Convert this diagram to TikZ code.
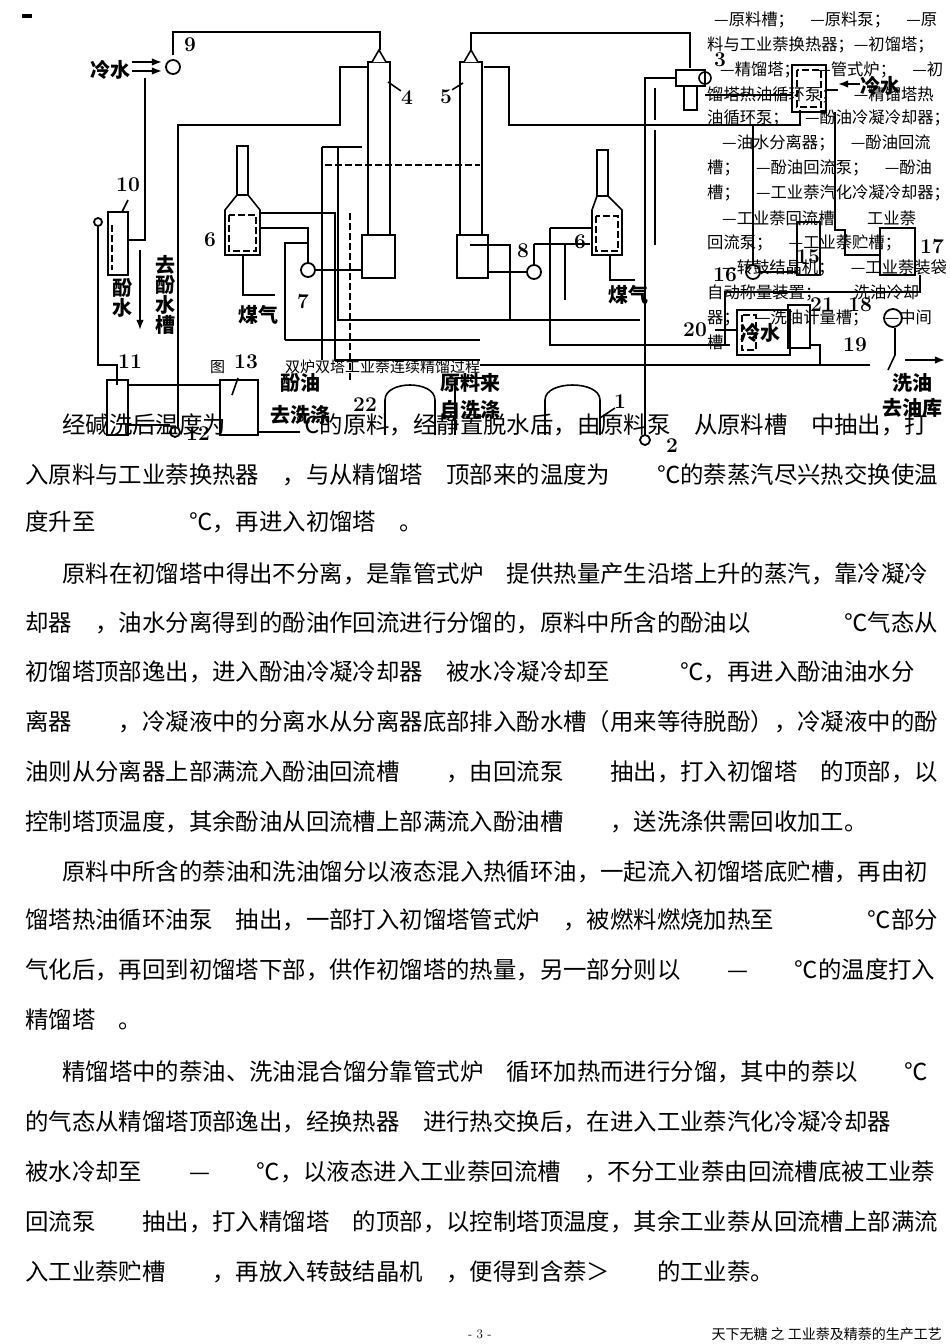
\documentclass[tikz,border=0pt]{standalone}
\usepackage{fontspec}
\newfontfamily\cjk{Noto Sans CJK SC}
\usetikzlibrary{arrows.meta}
\begin{document}
\begin{tikzpicture}[x=1pt,y=-1pt,
  pipe/.style={line width=2.6pt,line join=miter},
  thin/.style={line width=1.6pt},
  dashpipe/.style={line width=1.8pt,dash pattern=on 7pt off 3pt},
  body/.style={anchor=west,inner sep=0pt,font=\cjk\fontsize{23.4pt}{23.4pt}\selectfont},
  leg/.style={anchor=west,inner sep=0pt,font=\cjk\fontsize{16.3pt}{16.3pt}\selectfont},
  num/.style={inner sep=0pt,font=\bfseries\fontsize{21pt}{21pt}\selectfont},
  lab/.style={inner sep=0pt,font=\cjk\bfseries\fontsize{20pt}{20pt}\selectfont},
  pumpc/.style={circle,draw,line width=1.8pt,minimum size=14pt,inner sep=0pt,fill=white}]
\useasboundingbox (0,0) rectangle (950,1344);
\fill[white] (0,0) rectangle (950,1344);
\fill (22,14) rectangle (32,18);
% ---------- towers ----------
\draw[thin] (368,62) rectangle (390,235);
\draw[thin] (362,235) rectangle (395,278);
\draw[thin,fill=white] (372,62) -- (379,50) -- (386,62);
\draw[thin] (460,62) rectangle (482,235);
\draw[thin] (457,235) rectangle (488,278);
\draw[thin,fill=white] (464,62) -- (471,50) -- (478,62);
\node[num] (n4) at (407,98) {4}; \draw[thin] (n4.north west) -- (388,82);
\node[num] (n5) at (446,97) {5}; \draw[thin] (n5.north east) -- (463,83);
% ---------- furnaces ----------
\draw[thin] (237,146) rectangle (248,195);
\draw[thin] (237,195) -- (225,210) -- (225,255) -- (260,255) -- (260,210) -- (248,195);
\draw[dashpipe] (229,215) rectangle (256,251);
\node[num] (n6a) at (210,240) {6};
\draw[thin] (597,150) rectangle (608,196);
\draw[thin] (597,196) -- (592,210) -- (592,255) -- (622,255) -- (622,210) -- (608,196);
\draw[dashpipe] (596,216) rectangle (618,251);
\node[num] (n6b) at (580,242) {6};
% ---------- main pipes left ----------
\draw[pipe] (173,55) -- (173,32) -- (380,32) -- (380,50);
\node[pumpc] (p9) at (173,67) {};
\node[num] at (190,45) {9};
\node[lab] (cw1) at (110,70) {冷水};
\draw[thin,-{Latex}] (132,62) -- (162,62);
\draw[thin,-{Latex}] (132,71) -- (162,71);
\draw[pipe] (145,78) -- (145,240) -- (128,240);
\draw[thin] (108,212) rectangle (128,275);
\draw[dashpipe] (112,225) -- (112,270);
\node[num] at (128,185) {10};
\draw[thin] (128,200) -- (122,212);
\draw[pipe] (98,222) -- (98,365) -- (117,365) -- (117,385);
\node[pumpc,minimum size=8pt] at (98,222) {};
\node[lab,align=center] at (122,298) {酚\\水};
\node[lab,align=center] at (165,295) {去\\酚\\水\\槽};
\draw[thin,-{Latex}] (140,250) -- (140,330);
\draw[pipe] (178,435) -- (178,125) -- (340,125) -- (340,67) -- (368,67);
\draw[pipe] (243,255) -- (243,295) -- (275,295);
\node[lab] at (258,315) {煤气};
\draw[pipe] (260,213) -- (335,213) -- (335,360) -- (480,360);
\draw[pipe] (260,228) -- (308,228) -- (308,263);
\draw[pipe] (285,340) -- (285,243) -- (308,243);
\draw[pipe] (285,340) -- (480,340);
\node[pumpc] (p7) at (308,270) {};
\node[num] at (303,302) {7};
\draw[pipe] (315,270) -- (362,270);
\draw[pipe] (322,147) -- (322,360);
\draw[pipe] (322,147) -- (362,147);
\draw[dashpipe] (325,165) -- (480,165);
\draw[pipe] (338,147) -- (338,320) -- (480,320);
\draw[dashpipe] (350,213) -- (350,380);
% tanks bottom left
\draw[thin] (107,380) rectangle (128,435);
\node[num] at (130,362) {11};
\draw[pipe] (128,385) -- (220,385);
\draw[thin] (220,380) rectangle (258,435);
\node[num] at (246,362) {13};
\draw[thin] (238,378) -- (232,395);
\node[pumpc,minimum size=10pt] (p12) at (175,432) {};
\node[num] at (198,434) {12};
\draw[pipe] (128,425) -- (170,425);
\draw[pipe] (258,432) -- (300,432);
\node[lab] at (300,383) {酚油};
\node[lab] at (300,415) {去洗涤};
\draw[thin] (385,400) .. controls (385,380) and (435,380) .. (435,400) -- (435,435);
\draw[thin] (385,400) -- (385,435);
\node[num] at (365,405) {22};
\draw[thin] (545,400) .. controls (545,380) and (600,380) .. (600,400) -- (600,435);
\draw[thin] (545,400) -- (545,435);
\node[lab] at (470,383) {原料来};
\node[lab] at (470,410) {自洗涤};
\draw[thin] (455,378) -- (455,435);
\draw[thin] (455,378) -- (485,378);
\node[num] at (620,402) {1};
\draw[thin] (600,418) -- (615,408);
\node[pumpc,minimum size=10pt] (p2) at (645,440) {};
\node[num] at (672,446) {2};
% ---------- right side ----------
\draw[pipe] (471,50) -- (471,33) -- (690,33) -- (690,68);
\draw[thin,fill=white] (676,70) rectangle (705,86);
\draw[thin] (705,78) circle (6);
\draw[thin] (684,86) rectangle (697,110);
\node[num] at (720,60) {3};
\draw[pipe] (484,67) -- (509,67) -- (509,125) -- (800,125) -- (800,110);
\draw[pipe] (645,435) -- (645,78) -- (676,78);
\draw[pipe] (655,88) -- (655,120);
\draw[pipe] (655,130) -- (655,245);
\draw[pipe] (705,95) -- (792,95);
\draw[thin] (792,65) rectangle (826,112);
\draw[dashpipe] (797,70) rectangle (821,107);
\node[lab] at (880,86) {冷水};
\draw[thin,{Latex}-] (838,84) -- (860,84);
\draw[pipe] (826,90) -- (838,90);
\draw[pipe] (835,112) -- (835,230) -- (845,230) -- (845,255) -- (880,255);
\draw[thin] (797,222) rectangle (820,275);
\node[num] at (808,257) {15};
\draw[thin] (880,228) rectangle (915,275);
\node[num] at (932,247) {17};
\draw[pipe] (753,125) -- (753,265);
\node[pumpc] (p16) at (753,272) {};
\node[num] at (725,275) {16};
\draw[pipe] (760,272) -- (797,272);
\draw[pipe] (920,275) -- (920,292) -- (725,292) -- (725,345);
\draw[pipe] (565,245) -- (565,300);
\draw[pipe] (470,245) -- (510,245) -- (510,320);
\node[pumpc] (p8) at (534,272) {};
\node[num] at (523,251) {8};
\draw[pipe] (488,272) -- (527,272);
\draw[pipe] (534,244) -- (534,265);
\draw[pipe] (534,244) -- (590,244);
\draw[pipe] (550,228) -- (592,228) -- (592,230);
\draw[pipe] (550,228) -- (550,345) -- (730,345);
\draw[pipe] (610,255) -- (610,280) -- (635,280);
\node[lab] at (628,295) {煤气};
\draw[pipe] (480,320) -- (640,320);
\draw[pipe] (480,365) -- (870,365);
\draw[thin] (737,310) rectangle (790,355);
\draw[dashpipe] (742,315) rectangle (756,350);
\node[lab] at (760,333) {冷水};
\node[num] at (695,330) {20};
\draw[thin] (715,330) -- (737,330);
\draw[thin] (788,305) rectangle (810,348);
\node[num] at (822,305) {21};
\draw[pipe] (810,345) -- (820,345) -- (820,365);
\node[pumpc,minimum size=18pt] (p18) at (893,318) {};
\node[num] at (860,305) {18};
\node[num] at (855,345) {19};
\draw[thin] (895,328) -- (895,355) -- (888,370);
\draw[pipe] (905,360) -- (935,360);
\draw[thin,-{Latex}] (925,360) -- (945,360);
\node[lab] at (912,383) {洗油};
\node[lab] at (912,408) {去油库};
% ---------- legend text ----------
\node[leg] at (714,20) {—原料槽；　—原料泵；　—原};
\node[leg] at (707,45) {料与工业萘换热器；—初馏塔；};
\node[leg] at (720,70) {—精馏塔；　—管式炉；　—初};
\node[leg] at (707,95) {馏塔热油循环泵；　—精馏塔热};
\node[leg] at (707,118) {油循环泵；　—酚油冷凝冷却器；};
\node[leg] at (722,143) {—油水分离器；　—酚油回流};
\node[leg] at (707,168) {槽；　—酚油回流泵；　—酚油};
\node[leg] at (707,193) {槽；　—工业萘汽化冷凝冷却器；};
\node[leg] at (722,218) {—工业萘回流槽　　工业萘};
\node[leg] at (707,243) {回流泵；　—工业萘贮槽；};
\node[leg] at (722,268) {—转鼓结晶机；　—工业萘装袋};
\node[leg] at (707,293) {自动称量装置；　　洗油冷却};
\node[leg] at (707,318) {器；　—洗油计量槽；　—中间};
\node[leg] at (707,342) {槽};
\node[leg,font=\cjk\fontsize{15pt}{15pt}\selectfont] at (210,367) {图　　　　双炉双塔工业萘连续精馏过程};
% ---------- body text ----------
\node[body] at (62,425) {经碱洗后温度为　　　℃的原料，经静置脱水后，由原料泵　从原料槽　中抽出，打};
\node[body] at (25,475) {入原料与工业萘换热器　，与从精馏塔　顶部来的温度为　　℃的萘蒸汽尽兴热交换使温};
\node[body] at (25,522) {度升至　　　　℃，再进入初馏塔　。};
\node[body] at (62,574) {原料在初馏塔中得出不分离，是靠管式炉　提供热量产生沿塔上升的蒸汽，靠冷凝冷};
\node[body] at (25,623) {却器　，油水分离得到的酚油作回流进行分馏的，原料中所含的酚油以　　　　℃气态从};
\node[body] at (25,672) {初馏塔顶部逸出，进入酚油冷凝冷却器　被水冷凝冷却至　　　℃，再进入酚油油水分};
\node[body] at (25,722) {离器　　，冷凝液中的分离水从分离器底部排入酚水槽（用来等待脱酚），冷凝液中的酚};
\node[body] at (25,772) {油则从分离器上部满流入酚油回流槽　　，由回流泵　　抽出，打入初馏塔　的顶部，以};
\node[body] at (25,822) {控制塔顶温度，其余酚油从回流槽上部满流入酚油槽　　，送洗涤供需回收加工。};
\node[body] at (62,872) {原料中所含的萘油和洗油馏分以液态混入热循环油，一起流入初馏塔底贮槽，再由初};
\node[body] at (25,920) {馏塔热油循环油泵　抽出，一部打入初馏塔管式炉　，被燃料燃烧加热至　　　　℃部分};
\node[body] at (25,970) {气化后，再回到初馏塔下部，供作初馏塔的热量，另一部分则以　　—　　℃的温度打入};
\node[body] at (25,1020) {精馏塔　。};
\node[body] at (62,1072) {精馏塔中的萘油、洗油混合馏分靠管式炉　循环加热而进行分馏，其中的萘以　　℃};
\node[body] at (25,1122) {的气态从精馏塔顶部逸出，经换热器　进行热交换后，在进入工业萘汽化冷凝冷却器};
\node[body] at (25,1172) {被水冷却至　　—　　℃，以液态进入工业萘回流槽　，不分工业萘由回流槽底被工业萘};
\node[body] at (25,1222) {回流泵　　抽出，打入精馏塔　的顶部，以控制塔顶温度，其余工业萘从回流槽上部满流};
\node[body] at (25,1272) {入工业萘贮槽　　，再放入转鼓结晶机　，便得到含萘＞　　的工业萘。};
\node[leg,font=\fontsize{13pt}{13pt}\selectfont] at (468,1334) {- 3 -};
\node[leg,anchor=east,font=\cjk\fontsize{14pt}{14pt}\selectfont] at (942,1334) {天下无糖 之 工业萘及精萘的生产工艺};
\end{tikzpicture}
\end{document}
